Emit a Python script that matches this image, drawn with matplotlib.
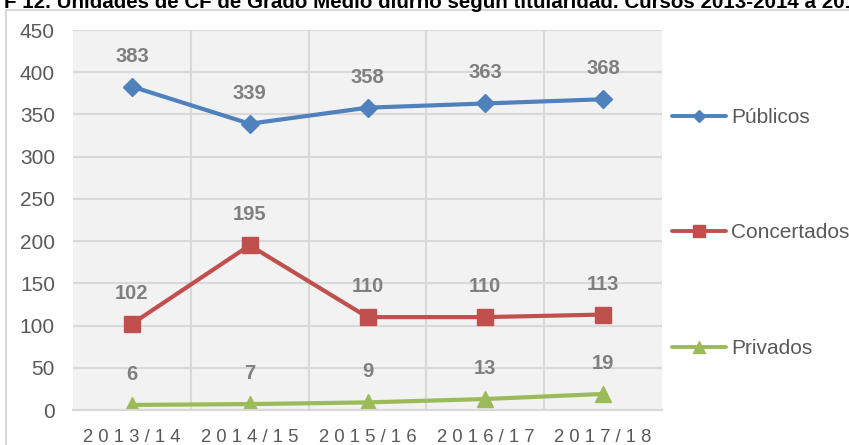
import matplotlib.pyplot as plt
from matplotlib.patches import Rectangle

plt.rcParams['font.family'] = ['Liberation Sans', 'DejaVu Sans']

cursos = ['2013/14', '2014/15', '2015/16', '2016/17', '2017/18']
publicos = [383, 339, 358, 363, 368]
concertados = [102, 195, 110, 110, 113]
privados = [6, 7, 9, 13, 19]

series = [
    ('Públicos', publicos, '#4F81BD', 'D', 9, 6.5),
    ('Concertados', concertados, '#C0504D', 's', 11.5, 9),
    ('Privados', privados, '#9BBB59', '^', 12, 9),
]

fig = plt.figure(figsize=(8.49, 4.45), dpi=100)
ax = fig.add_axes([73 / 849, 1 - 410 / 445, (662 - 73) / 849, 380 / 445])
ax.set_facecolor('#F2F2F2')

# chart frame (runs off the right and bottom edges)
fig.add_artist(Rectangle((6 / 849, -0.1), 1.0, 1 - 10 / 445 + 0.1,
                         transform=fig.transFigure, fill=False,
                         edgecolor='#D9D9D9', linewidth=1.5, clip_on=False))

# heading above the chart, partly off the page
fig.text(4 / 849, 1 - 8 / 445,
         'F 12. Unidades de CF de Grado Medio diurno según titularidad. Cursos 2013-2014 a 2017-2018',
         fontsize=14.8, fontweight='bold', color='black', va='baseline', ha='left')

x = list(range(len(cursos)))
for nombre, valores, color, marker, ms, _ in series:
    ax.plot(x, valores, color=color, linewidth=3, marker=marker,
            markersize=ms, label=nombre, solid_capstyle='round')
    for xi, v in zip(x, valores):
        ax.annotate(str(v), (xi, v), xytext=(0, 22), textcoords='offset points',
                    ha='center', va='center', fontsize=14.5, fontweight='bold',
                    color='#7F7F7F')

ax.set_xlim(-0.5, len(cursos) - 0.5)
ax.set_ylim(0, 450)
ax.set_yticks(range(0, 451, 50))
ax.set_xticks(x)
ax.set_xticklabels([' '.join(c) for c in cursos])
ax.set_xticks([i + 0.5 for i in x[:-1]], minor=True)

ax.grid(True, which='major', axis='y', color='#D9D9D9', linewidth=1.5)
ax.grid(True, which='minor', axis='x', color='#D9D9D9', linewidth=1.5)
ax.set_axisbelow(True)
for side in ['top', 'right', 'left']:
    ax.spines[side].set_visible(False)
ax.spines['bottom'].set_color('#D9D9D9')
ax.spines['bottom'].set_linewidth(1.5)

ax.tick_params(axis='both', which='both', length=0, labelcolor='#595959')
ax.tick_params(axis='y', pad=13, labelsize=15)
ax.tick_params(axis='x', pad=14, labelsize=13.3)

leg = fig.legend(loc='center left', bbox_to_anchor=(672 / 849, 1 - 233 / 445),
                 frameon=False, fontsize=15, labelspacing=4.63, handlelength=2.6,
                 handletextpad=0.24, borderpad=0, borderaxespad=0)
for t in leg.get_texts():
    t.set_color('#595959')
for h, s in zip(leg.legend_handles, series):
    h.set_markersize(s[5])
    h.set_linewidth(2.8)

fig.savefig('out.png', dpi=100)
